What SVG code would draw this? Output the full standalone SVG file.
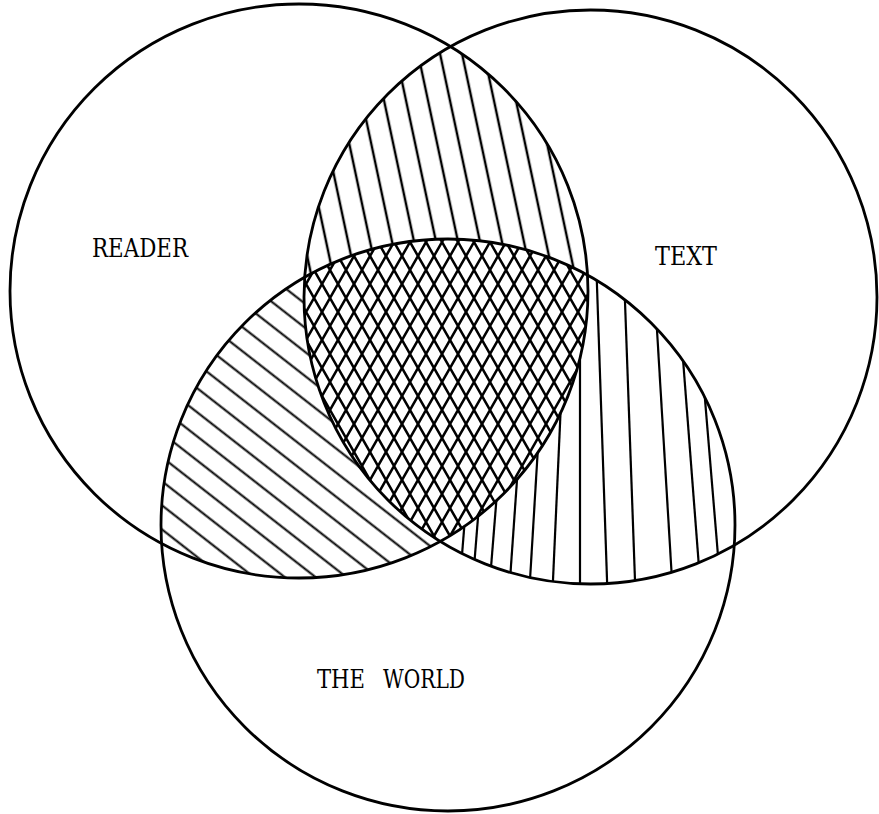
<svg xmlns="http://www.w3.org/2000/svg" width="879" height="814" viewBox="0 0 879 814">
<defs>
<style>
.circle{fill:none;stroke:#000;stroke-width:2.8}
.hatch{stroke:#000;stroke-width:2.2;fill:none}
.xhatch{stroke:#000;stroke-width:2.6;fill:none}
.label{font-family:"DejaVu Serif","Liberation Serif",serif;font-size:26px;fill:#000}
.on{fill:#fff}
.off{fill:#000}
</style>
<clipPath id="cR"><ellipse cx="299" cy="291" rx="289" ry="287"/></clipPath>
<clipPath id="cT"><ellipse cx="590.5" cy="297" rx="286.5" ry="287"/></clipPath>
<clipPath id="cW"><ellipse cx="448" cy="525" rx="287" ry="286"/></clipPath>
<mask id="mNotR" maskUnits="userSpaceOnUse" x="0" y="0" width="879" height="814"><rect class="on" width="879" height="814"/><ellipse class="off" cx="299" cy="291" rx="289" ry="287"/></mask>
<mask id="mNotT" maskUnits="userSpaceOnUse" x="0" y="0" width="879" height="814"><rect class="on" width="879" height="814"/><ellipse class="off" cx="590.5" cy="297" rx="286.5" ry="287"/></mask>
<mask id="mNotW" maskUnits="userSpaceOnUse" x="0" y="0" width="879" height="814"><rect class="on" width="879" height="814"/><ellipse class="off" cx="448" cy="525" rx="287" ry="286"/></mask>
<pattern id="pTop" patternUnits="userSpaceOnUse" width="40" height="21.5" patternTransform="rotate(78)"><line class="hatch" x1="-5" y1="10.75" x2="45" y2="10.75"/></pattern>
<pattern id="pLeft" patternUnits="userSpaceOnUse" width="40" height="19" patternTransform="rotate(38) translate(0,4)"><line class="hatch" x1="-5" y1="9.5" x2="45" y2="9.5"/></pattern>
<pattern id="pCross" patternUnits="userSpaceOnUse" width="16" height="28" patternTransform="translate(2,4)"><path class="xhatch" d="M-16,-28 L32,56 M0,-28 L48,56 M-32,-28 L16,56 M32,-28 L-16,56 M16,-28 L-32,56 M48,-28 L0,56"/></pattern>
</defs>
<rect width="879" height="814" fill="#fff"/>
<g id="shading">
  <g id="reader-text-lens" clip-path="url(#cR)"><g clip-path="url(#cT)" mask="url(#mNotW)"><rect width="879" height="814" fill="url(#pTop)"/></g></g>
  <g id="reader-world-lens" clip-path="url(#cR)"><g clip-path="url(#cW)" mask="url(#mNotT)"><rect width="879" height="814" fill="url(#pLeft)"/></g></g>
  <g id="text-world-lens" clip-path="url(#cT)"><g clip-path="url(#cW)" mask="url(#mNotR)">
    <line class="hatch" x1="485.6" y1="260" x2="458.4" y2="600"/>
    <line class="hatch" x1="498.6" y1="260" x2="471.4" y2="600"/>
    <line class="hatch" x1="515.6" y1="260" x2="488.4" y2="600"/>
    <line class="hatch" x1="532.4" y1="260" x2="508.6" y2="600"/>
    <line class="hatch" x1="549.2" y1="260" x2="528.8" y2="600"/>
    <line class="hatch" x1="567.4" y1="260" x2="552.1" y2="600"/>
    <line class="hatch" x1="580" y1="260" x2="580" y2="600"/>
    <line class="hatch" x1="596.1" y1="260" x2="607.7" y2="600"/>
    <line class="hatch" x1="623.5" y1="260" x2="635.7" y2="600"/>
    <line class="hatch" x1="652.8" y1="260" x2="673.2" y2="600"/>
    <line class="hatch" x1="675.4" y1="260" x2="701.5" y2="600"/>
    <line class="hatch" x1="693.4" y1="260" x2="721.7" y2="600"/>
  </g></g>
  <g id="triple-overlap" clip-path="url(#cR)"><g clip-path="url(#cT)"><g clip-path="url(#cW)"><rect width="879" height="814" fill="url(#pCross)"/></g></g></g>
</g>
<g id="node-reader">
  <ellipse class="circle" cx="299" cy="291" rx="289" ry="287"/>
  <text class="label" x="92" y="257" textLength="96" lengthAdjust="spacingAndGlyphs">READER</text>
</g>
<g id="node-text">
  <ellipse class="circle" cx="590.5" cy="297" rx="286.5" ry="287"/>
  <text class="label" x="655" y="265" textLength="62" lengthAdjust="spacingAndGlyphs">TEXT</text>
</g>
<g id="node-world">
  <ellipse class="circle" cx="448" cy="525" rx="287" ry="286"/>
  <text class="label" y="688"><tspan x="317" textLength="48" lengthAdjust="spacingAndGlyphs">THE</tspan> <tspan x="383" textLength="82" lengthAdjust="spacingAndGlyphs">WORLD</tspan></text>
</g>
</svg>
